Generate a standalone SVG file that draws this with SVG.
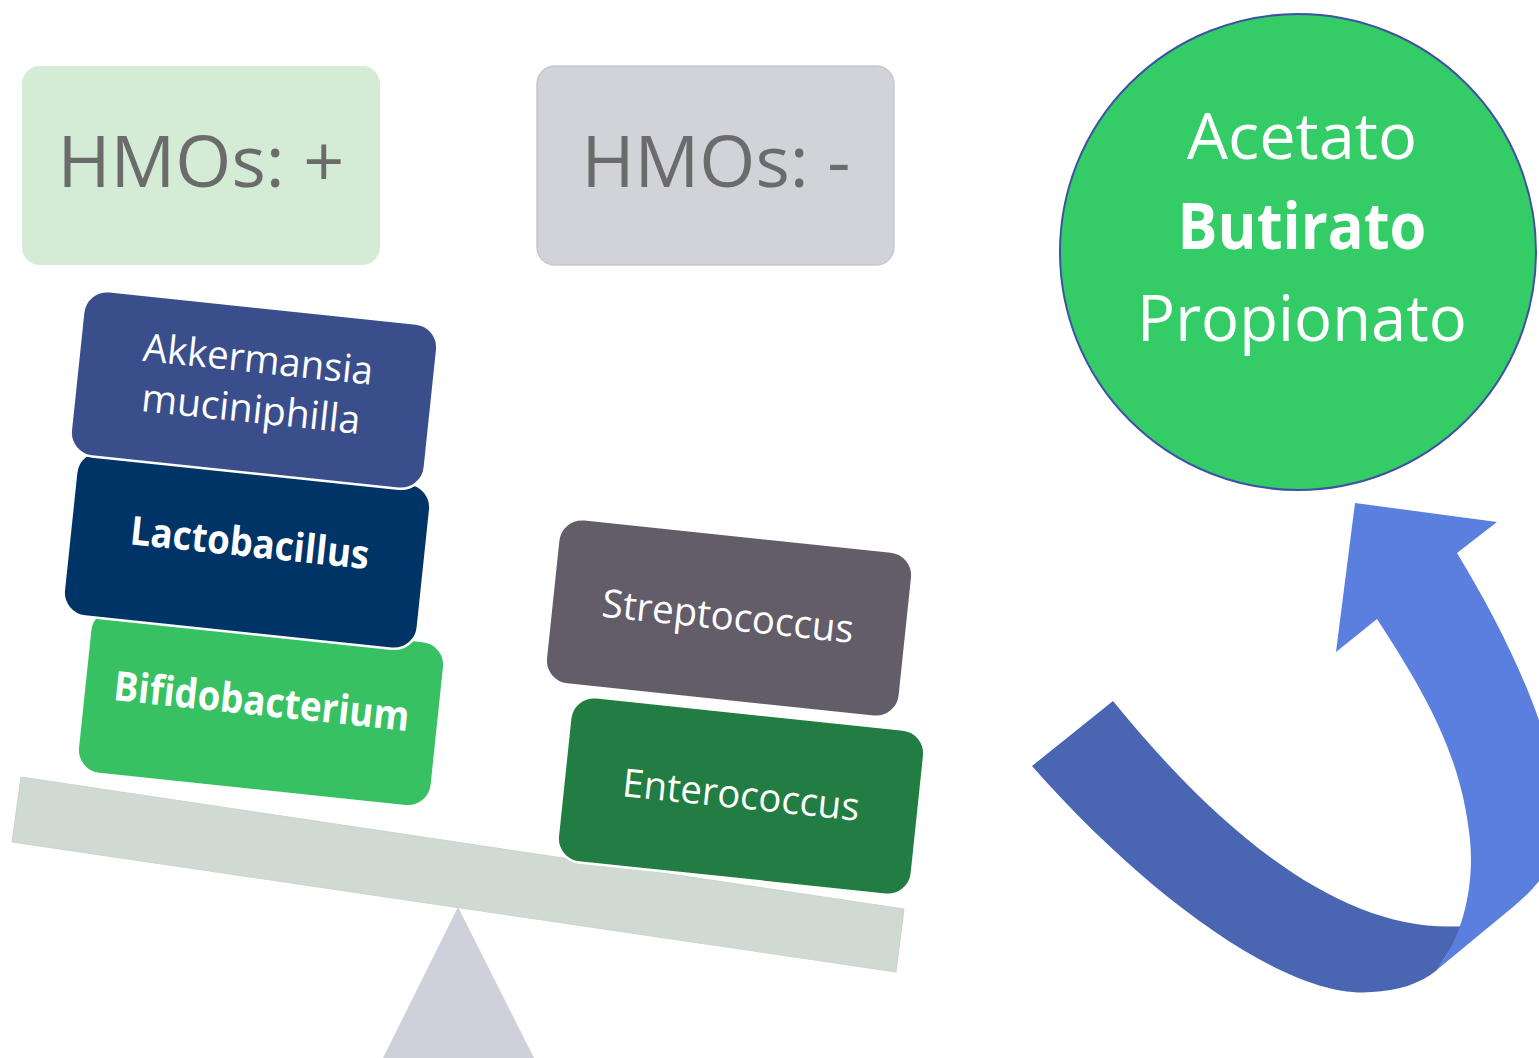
<svg xmlns="http://www.w3.org/2000/svg" width="1539" height="1058" viewBox="0 0 1539 1058">
<style>
  .box { stroke: #ffffff; stroke-width: 2.5; }
  .lbl { font-family: "Open Sans", "Noto Sans", sans-serif; fill: #ffffff; text-anchor: middle; }
  .b { font-weight: bold; }
  .hmo { font-family: "Open Sans", "Noto Sans", sans-serif; fill: #6b6b6b; text-anchor: middle; font-size: 72px; }
</style>
<rect width="1539" height="1058" fill="#ffffff"/>

<g id="fulcrum"><polygon points="458,907 534,1058 383,1058" fill="#d0d0dc"/></g>
<g id="beam"><polygon points="21,777 904,909 896,972 12,842" fill="#cfdad2" stroke="#c8d6cc" stroke-width="1"/></g>

<g id="hmos-plus">
  <rect x="22" y="66" width="358" height="199" rx="18" fill="#d4ebd6"/>
  <text class="hmo" x="201" y="187" textLength="287" lengthAdjust="spacingAndGlyphs">HMOs: +</text>
</g>
<g id="hmos-minus">
  <rect x="537" y="66" width="357" height="199" rx="18" fill="#d1d3d8" stroke="#c6c8d4" stroke-width="1.5"/>
  <text class="hmo" x="716" y="187" textLength="269" lengthAdjust="spacingAndGlyphs">HMOs: -</text>
</g>

<g id="bifidobacterium" transform="translate(261,707.5) rotate(6)">
  <rect class="box" x="-178" y="-83" width="356" height="166" rx="24" fill="#37c163"/>
  <text class="lbl b" x="0" y="8" font-size="41" textLength="297" lengthAdjust="spacingAndGlyphs">Bifidobacterium</text>
</g>
<g id="lactobacillus" transform="translate(247,550) rotate(6)">
  <rect class="box" x="-178" y="-83" width="356" height="166" rx="24" fill="#003366"/>
  <text class="lbl b" x="2" y="6.5" font-size="40" textLength="240" lengthAdjust="spacingAndGlyphs">Lactobacillus</text>
</g>
<g id="akkermansia" transform="translate(254,390) rotate(6)">
  <rect class="box" x="-178" y="-83" width="356" height="166" rx="24" fill="#3b4e8c"/>
  <text class="lbl" x="1" y="-17.5" font-size="39" textLength="231" lengthAdjust="spacingAndGlyphs">Akkermansia</text>
  <text class="lbl" x="-1" y="32.7" font-size="39" textLength="220" lengthAdjust="spacingAndGlyphs">muciniphilla</text>
</g>

<g id="streptococcus" transform="translate(729,618) rotate(6)">
  <rect class="box" x="-178" y="-83" width="356" height="166" rx="24" fill="#625d69"/>
  <text class="lbl" x="-1.3" y="12" font-size="39" textLength="253" lengthAdjust="spacingAndGlyphs">Streptococcus</text>
</g>
<g id="enterococcus" transform="translate(741,796) rotate(6)">
  <rect class="box" x="-178" y="-83" width="356" height="166" rx="24" fill="#227d42"/>
  <text class="lbl" x="0" y="12.5" font-size="39" textLength="238" lengthAdjust="spacingAndGlyphs">Enterococcus</text>
</g>

<g id="connectors">
  <path d="M1032,766 C1150,900 1290,1000 1372,992 C1397,991 1420,984 1437,970 L1465,926 C1350,935 1230,845 1113,701 Z" fill="#4a66b3"/>
  <path d="M1433,973 L1513,907 C1548,878 1562,850 1560,815 C1556,740 1510,640 1457,553 L1497,522 L1355,503 L1336,652 L1377,619 C1430,700 1462,760 1470,840 C1475,890 1460,945 1433,973 Z" fill="#5b7fde"/>
</g>

<g id="scfa">
  <circle cx="1298" cy="252" r="238" fill="#33cc66" stroke="#3f51a5" stroke-width="2"/>
  <text class="lbl" x="1302" y="159" font-size="64" textLength="230" lengthAdjust="spacingAndGlyphs">Acetato</text>
  <text class="lbl b" x="1302" y="249" font-size="64" textLength="249" lengthAdjust="spacingAndGlyphs">Butirato</text>
  <text class="lbl" x="1302" y="341" font-size="64" textLength="330" lengthAdjust="spacingAndGlyphs">Propionato</text>
</g>
</svg>
